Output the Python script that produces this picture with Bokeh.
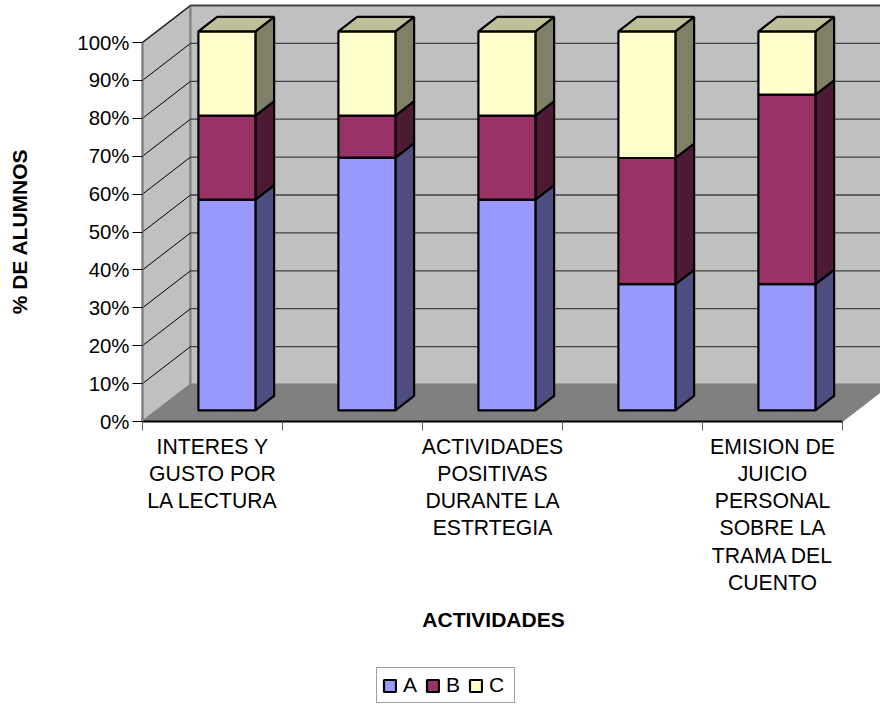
from bokeh.plotting import figure
from bokeh.embed import file_html
from bokeh.resources import INLINE
from bokeh.core.properties import value
from bokeh.models import FixedTicker, Legend, LegendItem

series_names = ["A", "B", "C"]
values_a = [55.6, 66.7, 55.6, 33.3, 33.3]
values_b = [22.2, 11.1, 22.2, 33.3, 50.0]
values_c = [22.2, 22.2, 22.2, 33.4, 16.7]
front_colors = ["#9999FF", "#993366", "#FFFFCC"]
side_colors = ["#4D4D80", "#4D1A33", "#808066"]
top_color = "#BFBF99"
category_labels = ["INTERES Y\nGUSTO POR\nLA LECTURA", "", "ACTIVIDADES\nPOSITIVAS\nDURANTE LA\nESTRTEGIA", "",
                   "EMISION DE\nJUICIO\nPERSONAL\nSOBRE LA\nTRAMA DEL\nCUENTO"]
y_ticks = [0, 10, 20, 30, 40, 50, 60, 70, 80, 90, 100]
y_tick_labels = ["0%", "10%", "20%", "30%", "40%", "50%", "60%", "70%", "80%", "90%", "100%"]
x_title = "ACTIVIDADES"
y_title = "% DE ALUMNOS"

FONT = "Liberation Sans"
W, H = 880, 704
PX_CAT = 140.0
PX_PCT = 3.79
X0, Y0 = 142.0, 421.0        # pixel of category 0, 0 %
DX, DY = 48.0, 37.0          # depth of the box in pixels
N = len(values_a)

x_start = (0 - X0) / PX_CAT
x_end = (W - X0) / PX_CAT
y_start = (Y0 - H) / PX_PCT
y_end = Y0 / PX_PCT


def proj(cat, pct, depth=0.0):
    return cat + depth * DX / PX_CAT, pct + depth * DY / PX_PCT


def poly(points):
    pts = [proj(*p) for p in points]
    return [q[0] for q in pts], [q[1] for q in pts]


p = figure(width=W, height=H, output_backend="svg", toolbar_location=None,
           x_range=(x_start, x_end), y_range=(y_start, y_end),
           min_border_left=0, min_border_right=0, min_border_top=0, min_border_bottom=0)
p.outline_line_color = None
p.grid.visible = False
p.background_fill_color = "white"
p.border_fill_color = "white"

wall_xs, wall_ys = [], []
for pts in ([(0, 0, 0), (0, 100, 0), (0, 100, 1), (0, 0, 1)],
            [(0, 0, 1), (0, 100, 1), (N, 100, 1), (N, 0, 1)]):
    a, b = poly(pts)
    wall_xs.append(a)
    wall_ys.append(b)
p.patches(wall_xs, wall_ys, fill_color="#C0C0C0", line_color="#808080", line_width=2)

back_x, back_y, diag_x, diag_y = [], [], [], []
for t in y_ticks:
    if t > 0:
        a, b = poly([(0, t, 1), (N, t, 1)])
        back_x.append(a)
        back_y.append(b)
        a, b = poly([(0, t, 0), (0, t, 1)])
        diag_x.append(a)
        diag_y.append(b)
p.multi_line(back_x, back_y, line_color="#404040", line_width=1.3)
p.multi_line(diag_x, diag_y, line_color="#000000", line_width=1)

fx, fy = poly([(0, 0, 0), (0, 0, 1), (N, 0, 1), (N, 0, 0)])
p.patch(fx, fy, fill_color="#808080", line_color="#808080", line_width=1)

BAR = 57.0 / PX_CAT
D1, D2 = 0.30, 0.69
legend_items = []
base = [0.0] * N
for name, vals, fc, sc in zip(series_names, [values_a, values_b, values_c], front_colors, side_colors):
    front_x, front_y, side_x, side_y, top_x, top_y = [], [], [], [], [], []
    for i, v in enumerate(vals):
        l = i + 0.5 - BAR / 2
        r = i + 0.5 + BAR / 2
        lo, hi = base[i], base[i] + v
        a, b = poly([(l, lo, D1), (l, hi, D1), (r, hi, D1), (r, lo, D1)])
        front_x.append(a)
        front_y.append(b)
        a, b = poly([(r, lo, D1), (r, hi, D1), (r, hi, D2), (r, lo, D2)])
        side_x.append(a)
        side_y.append(b)
        a, b = poly([(l, hi, D1), (l, hi, D2), (r, hi, D2), (r, hi, D1)])
        top_x.append(a)
        top_y.append(b)
        base[i] = hi
    p.patches(side_x, side_y, fill_color=sc, line_color="black", line_width=2.2)
    front = p.patches(front_x, front_y, fill_color=fc, line_color="black", line_width=2.2)
    if name == series_names[-1]:
        p.patches(top_x, top_y, fill_color=top_color, line_color="black", line_width=2.2)
    legend_items.append(LegendItem(label=name, renderers=[front]))

# axes, sitting on the front edge of the box
yax = p.yaxis[0]
yax.fixed_location = 0
yax.bounds = (0, 100)
yax.ticker = FixedTicker(ticks=y_ticks)
yax.major_label_overrides = {t: s for t, s in zip(y_ticks, y_tick_labels)}
yax.axis_line_color = "#808080"
yax.axis_line_width = 2
yax.major_tick_line_color = "black"
yax.major_tick_line_width = 1
yax.major_tick_out = 10
yax.major_tick_in = 0
yax.minor_tick_line_color = None
yax.major_label_standoff = 3
yax.major_label_text_font = FONT
yax.major_label_text_font_size = "20.4px"
yax.major_label_text_color = "black"

xax = p.xaxis[0]
xax.fixed_location = 0
xax.bounds = (0, N)
xax.ticker = FixedTicker(ticks=list(range(N + 1)))
xax.major_label_text_color = None
xax.major_label_text_font_size = "1px"
xax.axis_line_color = "#000000"
xax.axis_line_width = 2
xax.major_tick_line_color = "#606060"
xax.major_tick_line_width = 1
xax.major_tick_out = 9
xax.major_tick_in = 0
xax.minor_tick_line_color = None

# category labels
lab_i = [i + 0.5 for i, s in enumerate(category_labels) if s]
lab_t = [s for s in category_labels if s]
p.text(lab_i, [-(434 - Y0) / PX_PCT] * len(lab_i), text=lab_t, text_font=value(FONT),
       text_font_size="21.2px", text_color="black", text_align="center", text_baseline="top",
       text_line_height=1.185)

# axis titles
p.text([(493 - X0) / PX_CAT], [(Y0 - 619) / PX_PCT], text=[x_title], text_font=value(FONT),
       text_font_size="21px", text_font_style="bold", text_align="center", text_baseline="middle",
       text_color="black")
p.text([(19 - X0) / PX_CAT], [(Y0 - 231) / PX_PCT], text=[y_title], text_font=value(FONT),
       text_font_size="21px", text_font_style="bold", text_align="center", text_baseline="middle",
       text_color="black", angle=90, angle_units="deg")

legend = Legend(items=legend_items, orientation="horizontal", location=(376, 1),
                border_line_color="#404040", border_line_width=1.5, background_fill_color="white",
                background_fill_alpha=1, glyph_width=15, glyph_height=15, label_standoff=6,
                spacing=2, padding=5, margin=0, label_text_font=FONT, label_text_font_size="21px",
                label_text_color="black", label_height=20)
p.add_layout(legend, "center")

open("out.html", "w").write(file_html(p, INLINE))
